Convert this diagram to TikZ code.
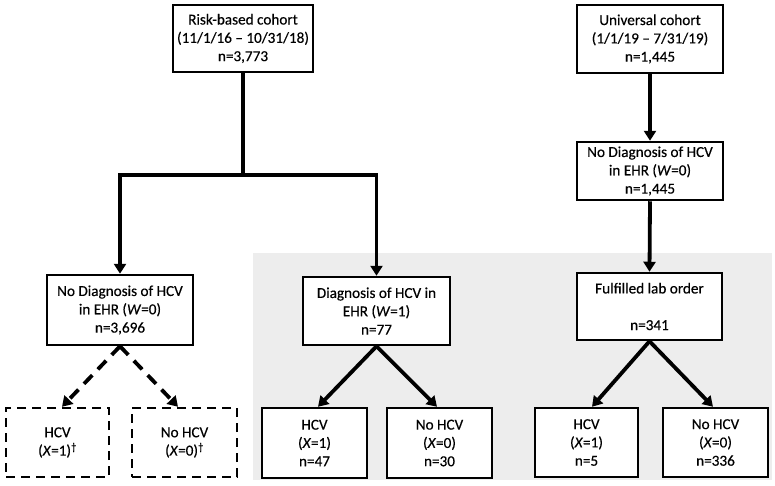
\documentclass[tikz,border=0pt]{standalone}
\usepackage{fontspec}
\setmainfont[FakeBold=0.35]{Carlito}
\newfontfamily\boxfont[FakeBold=0.35,Ligatures=TeX]{Carlito}
\usetikzlibrary{arrows.meta,calc}
\begin{document}
\begin{tikzpicture}[x=1pt,y=-1pt,
  box/.style={draw,line width=2.5pt,fill=white,align=center,inner sep=0pt,
     font=\boxfont\fontsize{15.2}{18.3}\selectfont},
  dbox/.style={box,dash pattern=on 9pt off 6pt},
  conn/.style={line width=3.8pt,-{Triangle[length=10pt,width=12pt]}},
  dconn/.style={conn,dash pattern=on 12pt off 8pt},
  plain/.style={line width=3.8pt}]
\useasboundingbox (0,0) rectangle (775,485);
\fill[gray!14] (253,253) rectangle (772,480);
\node[box,minimum width=140pt,minimum height=67pt] (rb) at (243,38.5) {Risk-based cohort\\(11/1/16 – 10/31/18)\\n=3,773};
\node[box,minimum width=146pt,minimum height=68pt] (uc) at (650,39) {Universal cohort\\(1/1/19 – 7/31/19)\\n=1,445};
\node[box,minimum width=146pt,minimum height=58pt] (nd2) at (650,171) {No Diagnosis of HCV\\in EHR (\textit{W}=0)\\n=1,445};
\node[box,minimum width=146pt,minimum height=70pt] (nd1) at (120,310) {No Diagnosis of HCV\\in EHR (\textit{W}=0)\\n=3,696};
\node[box,minimum width=147pt,minimum height=68pt] (d1) at (376.5,311) {Diagnosis of HCV in\\EHR (\textit{W}=1)\\n=77};
\node[box,minimum width=145pt,minimum height=67pt] (fl) at (649.5,306.5) {Fulfilled lab order\\[18.3pt]n=341};
\node[dbox,minimum width=103pt,minimum height=69pt] (h0) at (57.5,442.5) {HCV\\(\textit{X}=1)\textsuperscript{\dag}};
\node[dbox,minimum width=105pt,minimum height=69pt] (nh0) at (184.5,442.5) {No HCV\\(\textit{X}=0)\textsuperscript{\dag}};
\node[box,minimum width=105pt,minimum height=70pt] (h1) at (314.5,443) {HCV\\(\textit{X}=1)\\n=47};
\node[box,minimum width=105pt,minimum height=70pt] (nh1) at (439.5,443) {No HCV\\(\textit{X}=0)\\n=30};
\node[box,minimum width=103pt,minimum height=69pt] (h2) at (586.5,442.5) {HCV\\(\textit{X}=1)\\n=5};
\node[box,minimum width=105pt,minimum height=69pt] (nh2) at (715.5,442.5) {No HCV\\(\textit{X}=0)\\n=336};
\coordinate (j) at (243,175);
\draw[plain] (rb.south) -- (j);
\draw[conn] (j) -| (nd1.north);
\draw[conn] (j) -| (d1.north);
\draw[conn] (uc.south) -- (nd2.north);
\draw[conn] (nd2.south) -- (fl.north);
\draw[dconn] (nd1.south) -- ([xshift=4.5pt]h0.north);
\draw[dconn] (nd1.south) -- ([xshift=-6.5pt]nh0.north);
\draw[conn] (d1.south) -- ([xshift=3.5pt]h1.north);
\draw[conn] (d1.south) -- ([xshift=-2.5pt]nh1.north);
\draw[conn] (fl.south) -- ([xshift=5.5pt]h2.north);
\draw[conn] (fl.south) -- ([xshift=-2.5pt]nh2.north);
\end{tikzpicture}
\end{document}
